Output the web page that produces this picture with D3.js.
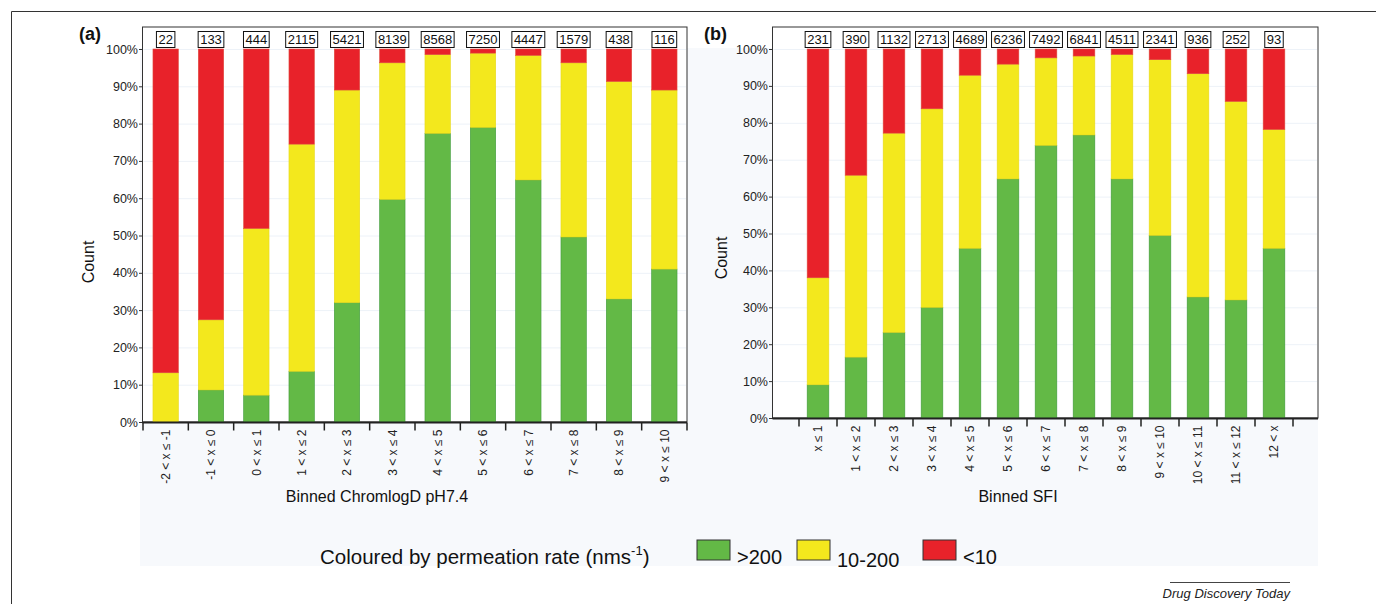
<!DOCTYPE html>
<html>
<head>
<meta charset="utf-8">
<script src="https://cdn.jsdelivr.net/npm/d3@7"></script>
<style>
  body { margin: 0; background: #fff; }
  svg { display: block; font-family: "Liberation Sans", Arial, sans-serif; }
</style>
</head>
<body>
<svg id="chart" width="1376" height="604"></svg>
<script>
// panel (a): binned ChromlogD pH7.4
var chromCategories = ['-2 < x \u2264 -1', '-1 < x \u2264 0', '0 < x \u2264 1', '1 < x \u2264 2',
  '2 < x \u2264 3', '3 < x \u2264 4', '4 < x \u2264 5', '5 < x \u2264 6', '6 < x \u2264 7',
  '7 < x \u2264 8', '8 < x \u2264 9', '9 < x \u2264 10'];
var chromCounts = [22, 133, 444, 2115, 5421, 8139, 8568, 7250, 4447, 1579, 438, 116];
// percentages per bin (>200, 10-200, <10)
var chromHigh = [0, 8.6, 7.2, 13.6, 32, 59.7, 77.4, 79, 64.9, 49.6, 33, 41];
var chromMid = [13.2, 18.8, 44.7, 60.9, 57, 36.6, 21.1, 19.9, 33.4, 46.7, 58.3, 48];
var chromLow = [86.8, 72.6, 48.1, 25.5, 11, 3.7, 1.5, 1.1, 1.7, 3.7, 8.7, 11];

// panel (b): binned SFI
var sfiCategories = ['x \u2264 1', '1 < x \u2264 2', '2 < x \u2264 3', '3 < x \u2264 4',
  '4 < x \u2264 5', '5 < x \u2264 6', '6 < x \u2264 7', '7 < x \u2264 8', '8 < x \u2264 9',
  '9 < x \u2264 10', '10 < x \u2264 11', '11 < x \u2264 12', '12 < x'];
var sfiCounts = [231, 390, 1132, 2713, 4689, 6236, 7492, 6841, 4511, 2341, 936, 252, 93];
var sfiHigh = [9, 16.5, 23.2, 30, 46, 64.8, 73.9, 76.7, 64.8, 49.5, 32.8, 32, 46];
var sfiMid = [29, 49.3, 54, 53.8, 46.9, 31.1, 23.7, 21.4, 33.7, 47.6, 60.5, 53.8, 32.2];
var sfiLow = [62, 34.2, 22.8, 16.2, 7.1, 4.1, 2.4, 1.9, 1.5, 2.9, 6.7, 14.2, 21.8];

var yTicks = [0, 10, 20, 30, 40, 50, 60, 70, 80, 90, 100];
var legendLabels = ['>200', '10-200', '<10'];
var colors = ['#63b946', '#f3e81d', '#e8222a'];
var strokes = ['#3f9a3a', '#e6d81a', '#e04a3f'];

var svg = d3.select('#chart');

// outer figure frame and light background
svg.append('path').attr('d', 'M11.5,604 V11.5 H1376')
  .attr('fill', 'none').attr('stroke', '#333').attr('stroke-width', 1);
svg.append('rect').attr('x', 140).attr('y', 48).attr('width', 1178).attr('height', 518)
  .attr('fill', '#f7f9fc');

function drawPanel(opts) {
  var g = svg.append('g');
  var x = d3.scaleBand().domain(opts.categories).range([opts.left, opts.right])
    .paddingInner(0).paddingOuter(0);
  var y = d3.scaleLinear().domain([0, 100]).range([opts.bottom, opts.top100]);

  // white plot frame
  g.append('rect')
    .attr('x', opts.frameLeft).attr('y', opts.frameTop)
    .attr('width', opts.frameRight - opts.frameLeft)
    .attr('height', opts.bottom - opts.frameTop)
    .attr('fill', '#fff').attr('stroke', '#333').attr('stroke-width', 1);

  // faint gridlines
  g.append('g').selectAll('line').data(yTicks.slice(1)).enter().append('line')
    .attr('x1', opts.frameLeft + 1).attr('x2', opts.frameRight - 1)
    .attr('y1', function (d) { return y(d) + 0.5; })
    .attr('y2', function (d) { return y(d) + 0.5; })
    .attr('stroke', '#edf2f8').attr('stroke-width', 1);

  // stacked bars
  var rows = opts.categories.map(function (c, i) {
    return { cat: c, high: opts.high[i], mid: opts.mid[i], low: opts.low[i] };
  });
  var stack = d3.stack().keys(['high', 'mid', 'low'])(rows);
  var bw = x.bandwidth() * opts.barFrac;
  g.append('g').selectAll('g').data(stack).enter().append('g')
    .attr('fill', function (d, i) { return colors[i]; })
    .attr('stroke', function (d, i) { return strokes[i]; })
    .selectAll('rect').data(function (d) { return d; }).enter().append('rect')
    .attr('x', function (d) { return x(d.data.cat) + (x.bandwidth() - bw) / 2; })
    .attr('width', bw)
    .attr('y', function (d) { return y(d[1]); })
    .attr('height', function (d) { return Math.max(0, y(d[0]) - y(d[1])); })
    .attr('stroke-width', 0.6);

  // count boxes
  var labels = g.append('g').selectAll('g').data(opts.counts).enter().append('g')
    .attr('transform', function (d, i) {
      return 'translate(' + (x(opts.categories[i]) + x.bandwidth() / 2) + ',' + 39.5 + ')';
    });
  labels.append('text')
    .attr('text-anchor', 'middle').attr('dy', '0.36em')
    .attr('font-size', 13).attr('fill', '#111')
    .text(function (d) { return d; });
  labels.each(function () {
    var t = d3.select(this).select('text').node().getBBox();
    d3.select(this).insert('rect', 'text')
      .attr('x', t.x - 2).attr('y', -8).attr('width', t.width + 4).attr('height', 16)
      .attr('fill', '#fff').attr('stroke', '#111').attr('stroke-width', 1);
  });

  // y axis
  var yAxis = d3.axisLeft(y).tickValues(yTicks).tickSize(4).tickPadding(1)
    .tickFormat(function (d) { return d + '%'; });
  var ya = g.append('g').attr('transform', 'translate(' + (opts.frameLeft + 0.5) + ',0)').call(yAxis);
  ya.select('.domain').remove();
  ya.selectAll('text').attr('font-size', 12.5).attr('fill', '#222')
    .attr('font-family', '"Liberation Sans", Arial, sans-serif');
  ya.selectAll('line').attr('stroke', '#333');

  // x axis with ticks at band edges
  var xa = g.append('g').attr('transform', 'translate(0,' + (opts.bottom + 0.5) + ')');
  xa.append('line').attr('x1', opts.frameLeft).attr('x2', opts.frameRight)
    .attr('stroke', '#222').attr('stroke-width', 2);
  var edges = opts.categories.map(function (c) { return x(c); }).concat([opts.right]);
  xa.selectAll('line.tick').data(edges).enter().append('line')
    .attr('class', 'tick')
    .attr('x1', function (d) { return d; }).attr('x2', function (d) { return d; })
    .attr('y1', 0).attr('y2', 8).attr('stroke', '#222').attr('stroke-width', 1.5);
  xa.selectAll('text').data(opts.categories).enter().append('text')
    .attr('transform', function (d) {
      return 'translate(' + (x(d) + x.bandwidth() / 2) + ',7) rotate(-90)';
    })
    .attr('text-anchor', 'end').attr('dy', '0.35em')
    .attr('font-size', 12).attr('fill', '#222')
    .text(function (d) { return d; });

  // axis titles
  g.append('text')
    .attr('transform', 'translate(' + opts.yTitleX + ',' + opts.yTitleY + ') rotate(-90)')
    .attr('text-anchor', 'middle').attr('font-size', 16).attr('fill', '#111')
    .text('Count');
  g.append('text')
    .attr('x', opts.xTitleX).attr('y', 502)
    .attr('text-anchor', 'middle').attr('font-size', 16).attr('fill', '#111')
    .text(opts.xTitle);

  // panel letter
  g.append('text')
    .attr('x', opts.letterX).attr('y', 40)
    .attr('font-size', 18).attr('font-weight', 'bold').attr('fill', '#111')
    .text(opts.letter);
}

drawPanel({
  categories: chromCategories, counts: chromCounts,
  high: chromHigh, mid: chromMid, low: chromLow,
  left: 143, right: 687, frameLeft: 142.5, frameRight: 687, frameTop: 27,
  top100: 49, bottom: 422, barFrac: 0.56,
  yTitleX: 94, yTitleY: 262, xTitleX: 377, xTitle: 'Binned ChromlogD pH7.4',
  letter: '(a)', letterX: 79
});

drawPanel({
  categories: sfiCategories, counts: sfiCounts,
  high: sfiHigh, mid: sfiMid, low: sfiLow,
  left: 799, right: 1293, frameLeft: 772.5, frameRight: 1318, frameTop: 27,
  top100: 49, bottom: 418, barFrac: 0.57,
  yTitleX: 727, yTitleY: 258, xTitleX: 1018, xTitle: 'Binned SFI',
  letter: '(b)', letterX: 704
});

// legend
var legend = svg.append('g');
var title = legend.append('text').attr('x', 320).attr('y', 564)
  .attr('font-size', 20.5).attr('fill', '#111');
title.append('tspan').text('Coloured by permeation rate (nms');
title.append('tspan').attr('font-size', 13).attr('dy', -9).text('-1');
title.append('tspan').attr('dy', 9).text(')');

var legendX = [697, 797, 923];
var legendY = [557, 560, 557];
legendLabels.forEach(function (lab, i) {
  legend.append('rect').attr('x', legendX[i]).attr('y', 540).attr('width', 33).attr('height', 20)
    .attr('fill', colors[i]).attr('stroke', '#333').attr('stroke-width', 1);
  legend.append('text').attr('x', legendX[i] + 40).attr('y', legendY[i] + 7)
    .attr('font-size', 20).attr('fill', '#111').text(lab);
});

// journal footer
svg.append('line').attr('x1', 1170).attr('x2', 1290).attr('y1', 582.5).attr('y2', 582.5)
  .attr('stroke', '#444').attr('stroke-width', 1);
svg.append('text').attr('x', 1290).attr('y', 598).attr('text-anchor', 'end')
  .attr('font-size', 13).attr('font-style', 'italic').attr('fill', '#222')
  .text('Drug Discovery Today');
</script>
</body>
</html>
